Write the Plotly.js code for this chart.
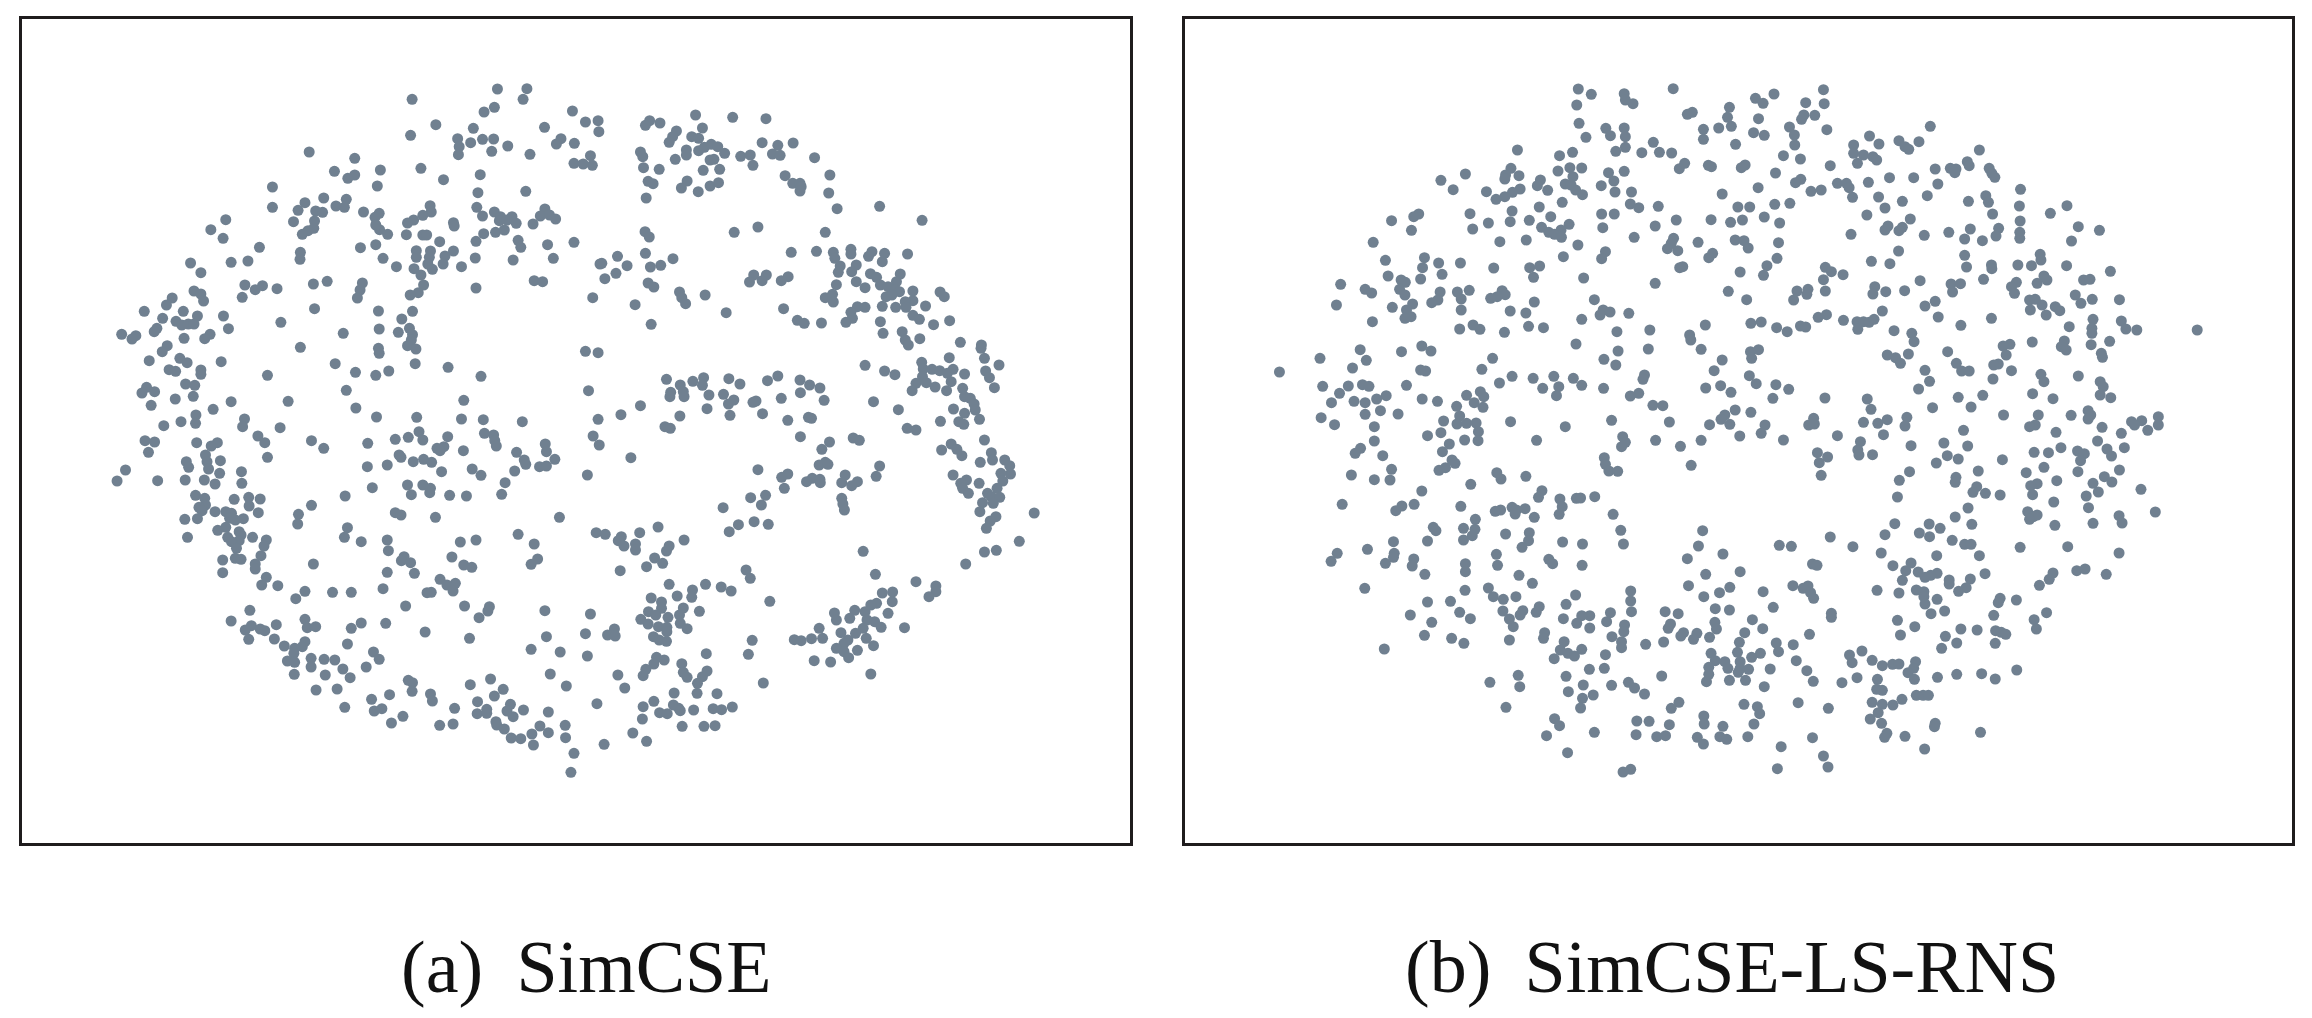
<!DOCTYPE html>
<html>
<head>
<meta charset="utf-8">
<script src="https://cdn.plot.ly/plotly-3.0.1.min.js"></script>
<style>html,body{margin:0;padding:0;background:#fff}</style>
</head>
<body>
<div id="chart" style="width:2312px;height:1018px"></div>
<script>
// Points in four regions per panel.
const simcseNW = [[1300,267],[1377,266],[1077,298],[1367,298],[1292,322],[1265,336],[1496,333],[1530,366],[1563,362],[1565,395],[1139,374],[1237,385],[1423,382],[1073,406],[1196,416],[1200,440],[1198,464],[1230,428],[1261,418],[1290,417],[1285,454],[1327,438],[1466,416],[1454,432],[1501,430],[1385,463],[1543,467],[1500,490],[1524,492],[1548,496],[808,456],[927,475],[874,514],[927,525],[909,535],[994,510],[1100,505],[1159,539],[1255,524],[986,558],[712,561],[1249,578],[1374,574],[846,594],[905,598],[878,618],[900,622],[712,622],[797,608],[779,631],[825,633],[843,637],[950,636],[1124,617],[1127,636],[1105,646],[1246,622],[1261,648],[1292,636],[1308,650],[1338,650],[1305,662],[1325,660],[1349,670],[1424,627],[1412,648],[1436,645],[1452,657],[1393,672],[991,640],[980,652],[982,675],[992,689],[1013,703],[1081,660],[1065,669],[1185,668],[1187,678],[822,663],[767,665],[820,685],[805,692],[790,703],[590,659],[551,689],[583,715],[1062,704],[1105,705],[1115,705],[1264,701],[1295,697],[1318,690],[1244,724],[1149,725],[1354,721],[1361,742],[1431,734],[1500,727],[678,742],[785,757],[784,778],[942,743],[982,734],[1088,752],[1088,772],[1125,753],[1122,772],[1163,768],[1185,753],[1001,775],[1446,775],[1242,774],[1341,780],[498,789],[604,787],[648,783],[1568,792],[1036,800],[1118,792],[1082,806],[1130,808],[1158,792],[1206,800],[1100,825],[525,818],[1396,842],[1418,845],[640,855],[686,857],[667,869],[724,866],[819,852],[855,844],[947,849],[941,870],[934,894],[1107,855],[1093,878],[1072,885],[1244,864],[507,873],[525,882],[532,903],[450,894],[435,915],[633,892],[1549,893],[822,926],[377,934],[479,934],[989,933],[1078,934],[425,955],[516,948],[584,948],[1050,957],[460,964],[475,975],[492,972],[507,972],[734,967],[410,985],[403,995],[597,986],[1070,985],[1078,1004],[991,987],[1041,997],[897,1000],[318,1003],[355,1007],[345,1017],[549,1003],[535,1016],[481,1015],[1075,1020],[1065,1037],[1087,1047],[437,1037],[424,1055],[785,1042],[989,1045],[991,1060],[1530,1054],[1563,1058],[470,1075],[489,1088],[390,1082],[578,1085],[1085,1091],[876,1091],[1171,1102],[442,1109],[459,1114],[525,1110],[525,1123],[929,1117],[1016,1113],[982,1126],[699,1126],[1257,1129],[485,1152],[509,1156],[383,1162],[371,1179],[404,1175],[1538,1172],[905,1171],[458,1197],[505,1189],[604,1205],[753,1204],[1212,1201],[395,1216],[557,1228],[930,1224],[512,1245],[984,1251],[1089,1252],[1206,1257],[1263,1259],[1365,1265],[639,1257],[1563,1258],[473,1265],[511,1270],[428,1277],[634,1280],[732,1283]];
const simcseNE = [[302,345],[399,352],[486,356],[182,362],[171,376],[209,369],[252,393],[320,384],[242,410],[233,427],[292,410],[310,415],[476,428],[517,436],[557,429],[278,450],[278,465],[310,452],[325,442],[343,433],[360,440],[378,460],[158,456],[164,470],[249,478],[420,469],[445,465],[452,496],[503,462],[523,466],[613,473],[340,480],[350,478],[166,503],[207,508],[322,511],[365,508],[653,525],[536,527],[178,544],[191,551],[280,543],[265,564],[309,575],[340,558],[362,548],[556,550],[575,550],[578,560],[575,573],[650,579],[173,594],[672,626],[783,619],[894,661],[170,695],[181,711],[403,697],[465,681],[641,697],[552,757],[618,754],[662,757],[666,775],[708,748],[708,762],[763,755],[754,769],[796,760],[790,785],[856,762],[171,760],[98,769],[57,790],[123,797],[243,776],[211,796],[184,801],[94,820],[65,836],[680,798],[675,817],[722,795],[710,815],[759,821],[775,832],[837,822],[454,825],[487,825],[443,846],[476,842],[544,830],[526,842],[178,849],[193,861],[827,845],[722,845],[745,863],[670,854],[785,855],[805,860],[825,870],[835,875],[800,890],[815,885],[260,876],[266,893],[276,911],[327,885],[870,873],[941,876],[952,890],[660,883],[641,893],[662,906],[144,914],[870,902],[850,905],[852,922],[790,919],[825,922],[903,918],[725,920],[745,922],[532,926],[382,938],[708,937],[870,946],[887,958],[568,961],[586,970],[631,969],[712,955],[695,967],[186,973],[785,965],[924,974],[966,962],[792,1000],[842,995],[888,1016],[850,1020],[858,1035],[994,1027],[1049,1035],[1048,1045],[965,1073],[1057,1075],[893,1087],[1095,1095],[745,1096],[897,1107],[920,1108],[940,1112],[975,1108],[960,1120],[796,1113],[823,1124],[1060,1113],[1070,1133],[1005,1122],[895,1130],[878,1150],[905,1148],[970,1145],[868,1172],[928,1161],[958,1172],[1083,1163],[1000,1165],[226,1138],[262,1155],[295,1144],[323,1133],[320,1156],[389,1136],[418,1152],[490,1142],[517,1128],[575,1140],[600,1155],[627,1164],[576,1178],[237,1177],[235,1190],[270,1175],[272,1190],[337,1185],[375,1183],[402,1200],[388,1212],[460,1203],[452,1207],[526,1195],[638,1201],[1005,1190],[1020,1195],[1030,1212],[767,1205],[158,1217],[107,1244],[332,1226],[832,1229],[976,1227],[1033,1230],[1005,1240],[261,1248],[392,1246],[477,1241],[543,1261],[597,1252],[605,1255],[1044,1258],[942,1264],[990,1265],[1003,1273],[855,1285],[878,1290],[222,1280],[236,1285]];
const simcseSW = [[1095,35],[1170,50],[1105,60],[1033,58],[1067,52],[1266,40],[1290,45],[1293,62],[1297,78],[1550,48],[1566,75],[674,48],[692,68],[379,62],[404,66],[514,68],[568,68],[552,78],[814,62],[846,85],[961,70],[388,97],[1142,85],[1160,80],[1150,92],[1425,72],[1428,95],[1211,92],[1350,97],[699,112],[537,105],[541,125],[576,122],[487,125],[493,142],[1043,105],[1048,112],[1080,125],[1107,118],[1128,127],[1370,120],[1374,133],[1450,118],[1410,140],[1428,138],[960,140],[1012,135],[545,147],[631,155],[1154,155],[1234,147],[1257,166],[1345,153],[1535,165],[328,150],[574,160],[306,183],[412,182],[484,180],[534,180],[562,192],[632,190],[1065,195],[1105,195],[1125,205],[1320,188],[973,203],[1075,224],[1123,218],[1175,226],[1219,228],[1311,223],[902,228],[511,226],[535,235],[612,238],[650,232],[680,237],[537,255],[520,262],[651,258],[814,256],[780,283],[562,275],[590,275],[605,280],[528,272],[675,278],[1033,278],[1048,285],[1138,292],[1462,292],[483,298],[516,296],[600,295],[615,300],[636,296],[778,312],[908,323],[1354,343],[1558,338],[590,322],[569,331],[625,335],[900,352],[490,352],[630,345],[595,352],[660,352],[625,362],[605,365],[696,360],[690,378],[944,365],[1012,360],[1203,366],[1244,360],[1396,372],[618,385],[1015,392],[682,407],[1405,417],[1388,433],[582,420],[615,415],[630,418],[1056,410],[1049,422],[1073,428],[1181,411],[1212,435],[1233,442],[667,432],[667,447],[819,432],[582,458],[1012,457],[1083,460],[696,472],[1150,478],[1168,495],[1190,490],[684,495],[726,497],[1184,513],[1001,506],[797,514],[869,517],[918,517],[1116,518],[1127,517],[773,536],[1060,558],[1214,558],[1279,560],[1275,573],[653,571],[1424,572],[1543,582],[604,603],[797,598],[1252,593],[803,623],[825,620],[944,609],[918,625],[1008,610],[722,614],[1111,636],[657,617],[641,630],[680,627],[692,632],[650,658],[717,657],[1227,655],[1530,641],[1428,650],[908,672],[797,665],[743,678],[770,685],[790,680],[1388,688],[1464,696],[1535,708],[976,696],[991,718],[768,700],[813,715],[847,718],[875,720],[751,723],[770,727],[813,741],[957,741],[896,747],[769,763],[850,765],[915,773],[1438,762],[1067,781],[1078,788],[1282,777],[1229,794],[1480,798],[826,810],[881,807],[1315,808],[1077,814],[1018,824],[1125,822],[1130,843],[971,838],[1292,828],[1248,845],[1560,851],[1334,853],[901,862],[998,866],[978,873],[1188,865],[1272,868],[1247,881],[1272,880],[1325,873],[1341,890],[1368,870],[1433,876],[1053,889],[1023,909],[1149,916],[1184,912],[1296,905],[1298,915],[1318,927],[1477,916],[1411,918],[1433,938],[1390,942],[1336,954],[1361,956],[1478,953],[1394,975],[1500,1000],[1492,1057]];
const simcseSE = [[576,50],[652,66],[714,54],[730,61],[1057,60],[970,72],[945,90],[632,88],[985,88],[998,107],[133,113],[1075,98],[1078,120],[1110,120],[1046,127],[1123,137],[641,127],[625,135],[648,133],[783,138],[465,149],[1125,162],[1100,160],[975,165],[543,162],[527,172],[774,169],[693,165],[684,188],[607,175],[592,185],[627,178],[628,188],[725,185],[710,197],[1010,180],[995,190],[1043,190],[1105,183],[534,205],[1000,205],[1015,220],[1090,205],[485,226],[446,233],[684,235],[687,252],[474,255],[691,270],[1065,220],[1075,230],[1097,232],[1052,248],[1080,250],[374,263],[1045,275],[1187,279],[1087,290],[1072,303],[1062,325],[414,314],[455,305],[492,313],[390,335],[204,321],[66,343],[156,338],[108,350],[100,362],[115,378],[145,372],[145,390],[272,360],[233,378],[226,393],[1148,364],[740,394],[1057,396],[1088,391],[195,414],[216,430],[174,440],[1008,432],[434,450],[105,452],[445,475],[772,463],[878,485],[233,493],[328,493],[369,501],[395,513],[294,510],[292,532],[930,498],[930,515],[912,530],[790,519],[817,516],[816,545],[496,544],[254,528],[186,534],[213,546],[213,565],[270,564],[775,550],[760,555],[805,580],[745,575],[665,579],[718,571],[312,574],[179,575],[198,585],[260,585],[230,592],[159,598],[705,595],[670,600],[750,600],[770,605],[262,610],[178,612],[205,620],[280,626],[227,622],[625,625],[787,622],[848,623],[740,625],[720,640],[682,638],[90,627],[72,645],[92,648],[192,650],[207,660],[226,664],[227,635],[634,655],[605,656],[560,659],[578,662],[748,655],[700,660],[690,670],[767,677],[450,661],[670,685],[690,695],[725,691],[330,701],[440,703],[702,713],[200,712],[220,720],[612,722],[655,726],[193,732],[266,731],[332,753],[172,748],[165,767],[270,757],[280,772],[320,770],[99,765],[760,762],[307,790],[479,789],[117,804],[246,819],[306,820],[358,821],[193,844],[165,860],[244,855],[258,865],[297,870],[348,866],[370,869],[398,861],[208,878],[228,881],[262,872],[163,897],[267,919],[324,919],[353,917],[138,939],[174,964],[63,973]];
const lsrnsNW = [[1067,267],[1101,283],[1187,281],[1190,300],[1210,311],[1315,266],[1530,295],[1550,310],[1063,315],[1462,322],[1365,337],[1352,343],[1457,352],[1538,356],[1069,370],[1139,385],[1187,384],[1394,388],[1434,384],[1467,379],[1151,407],[1190,410],[1087,412],[1394,418],[1525,398],[1553,406],[1263,427],[1478,433],[1190,442],[1165,454],[1052,457],[1233,458],[1279,457],[1311,459],[908,450],[1018,467],[1345,490],[1331,506],[1407,496],[1415,500],[1503,495],[1493,503],[772,522],[891,505],[1045,503],[1076,504],[1014,513],[1146,518],[1187,514],[912,527],[877,525],[875,537],[1053,530],[708,541],[968,540],[960,557],[1160,543],[1033,552],[1048,555],[1127,557],[1537,563],[740,569],[915,567],[895,577],[875,590],[852,598],[827,575],[987,571],[1060,570],[1078,584],[1163,576],[1206,576],[1443,582],[1025,607],[1203,612],[1225,623],[1276,619],[1484,621],[1515,621],[965,621],[894,633],[650,642],[637,650],[784,641],[1128,642],[1161,642],[995,650],[1553,651],[579,662],[889,665],[939,661],[832,669],[1323,660],[1414,659],[1465,667],[1496,660],[631,691],[791,687],[1043,673],[971,682],[1131,683],[1268,678],[990,697],[1022,690],[1005,703],[1023,712],[1213,712],[531,727],[862,725],[931,720],[1316,715],[1380,727],[1477,720],[1500,722],[1310,730],[1066,735],[1300,746],[1327,752],[1511,744],[1138,755],[1418,760],[1128,776],[1408,773],[1028,770],[665,773],[563,781],[702,789],[759,789],[660,803],[940,803],[966,798],[846,804],[1560,797],[1340,800],[1332,803],[711,823],[570,828],[1490,816],[1551,826],[950,832],[655,837],[604,840],[1081,834],[615,847],[1268,850],[446,853],[510,868],[527,879],[600,868],[614,885],[751,876],[782,871],[706,876],[868,872],[876,884],[855,890],[838,895],[761,897],[1459,874],[1507,899],[700,900],[684,908],[1109,899],[952,906],[435,915],[634,912],[581,922],[618,930],[761,930],[889,933],[930,939],[1132,930],[1150,936],[1124,945],[1199,940],[630,950],[614,955],[529,965],[1076,958],[1518,970],[1545,966],[1399,975],[792,975],[810,988],[757,987],[874,997],[937,979],[976,983],[1168,995],[1254,990],[1358,1005],[1361,1020],[1061,1032],[1388,1048],[1250,1047],[658,1038],[682,1053],[497,1049],[605,1055],[1517,1055],[1538,1049],[1520,1075],[392,1075],[513,1081],[843,1075],[1171,1053],[1134,1078],[1165,1095],[1443,1080],[477,1104],[815,1108],[655,1110],[668,1113],[1422,1112],[286,1116],[1514,1127],[1240,1125],[1236,1138],[894,1129],[949,1135],[1003,1129],[1054,1135],[1076,1156],[861,1149],[1532,1151],[399,1159],[466,1158],[503,1154],[520,1159],[618,1156],[1439,1157],[1400,1164],[1133,1165],[974,1165],[1016,1160],[1466,1177],[1010,1187],[443,1180],[1225,1180],[1203,1188],[775,1186],[811,1175],[820,1190],[565,1187],[540,1197],[659,1197],[699,1204],[422,1208],[481,1204],[510,1208],[795,1208],[1262,1216],[1288,1217],[749,1219],[818,1222],[550,1232],[1477,1230],[1450,1245],[510,1243],[596,1242],[1518,1237],[757,1248],[395,1253],[1154,1261],[1305,1266],[890,1265],[715,1263],[1440,1258],[750,1272],[800,1269],[775,1270],[430,1274],[1410,1274],[1463,1273],[1555,1275],[534,1280],[1033,1280]];
const lsrnsNE = [[274,269],[143,282],[227,308],[276,311],[251,346],[222,345],[216,358],[557,379],[184,381],[283,389],[197,405],[396,408],[421,432],[474,422],[527,425],[198,435],[354,435],[354,460],[490,440],[500,448],[380,465],[405,470],[415,480],[687,450],[168,467],[213,477],[364,490],[292,497],[655,485],[660,497],[570,507],[610,505],[625,507],[622,518],[713,505],[720,520],[728,532],[147,519],[449,533],[513,533],[214,538],[200,548],[311,550],[335,550],[342,563],[393,547],[577,552],[241,574],[268,570],[796,568],[351,592],[420,591],[549,587],[704,587],[711,607],[145,613],[185,610],[483,604],[658,604],[793,618],[919,617],[437,624],[722,642],[389,645],[875,640],[158,669],[795,663],[504,657],[949,680],[445,678],[437,690],[483,682],[474,692],[738,685],[731,708],[663,687],[606,697],[1005,691],[347,703],[541,706],[794,697],[794,715],[648,717],[695,722],[931,723],[155,728],[473,753],[648,766],[848,763],[151,775],[401,784],[450,791],[279,802],[295,815],[653,801],[719,795],[720,806],[789,795],[825,797],[850,780],[918,797],[326,824],[1034,814],[274,839],[858,828],[866,840],[840,850],[530,842],[963,840],[980,838],[698,838],[612,852],[637,851],[785,847],[772,860],[780,880],[410,860],[405,882],[439,875],[489,872],[616,876],[279,873],[204,873],[233,868],[230,883],[195,900],[941,885],[956,910],[986,898],[1058,899],[820,900],[835,898],[822,930],[853,915],[864,945],[888,920],[900,932],[570,904],[543,918],[430,933],[282,944],[260,952],[327,961],[363,965],[380,965],[395,967],[408,958],[365,988],[578,951],[719,955],[988,958],[1063,963],[1075,987],[1104,990],[1264,990],[150,983],[178,995],[213,978],[227,981],[638,976],[925,980],[985,985],[985,1000],[461,992],[508,1000],[514,1025],[768,1033],[827,1026],[912,1023],[1032,1024],[750,1038],[983,1034],[904,1040],[917,1050],[758,1065],[1010,1060],[1013,1072],[603,1055],[443,1065],[499,1062],[465,1073],[478,1090],[626,1090],[737,1092],[725,1095],[640,1113],[660,1113],[772,1112],[543,1111],[850,1123],[858,1145],[723,1137],[949,1128],[1007,1145],[1015,1160],[555,1144],[148,1154],[182,1168],[526,1167],[1007,1185],[1035,1193],[828,1181],[882,1196],[631,1192],[696,1186],[278,1194],[140,1195],[390,1197],[400,1228],[665,1221],[563,1223],[975,1232],[982,1245],[975,1257],[751,1245],[843,1245],[930,1246],[1161,1250],[495,1252],[248,1255],[380,1267],[443,1259],[418,1270],[1117,1262],[1090,1265],[1161,1275],[1098,1275],[235,1275],[250,1272],[490,1278],[1012,1282],[835,1275],[820,1280]];
const lsrnsSW = [[534,63],[673,47],[708,38],[806,35],[730,72],[770,60],[805,62],[1183,50],[1190,67],[1180,80],[1269,61],[1388,61],[1334,79],[1489,48],[1545,40],[958,61],[712,95],[498,85],[484,100],[556,107],[737,120],[745,130],[720,143],[703,151],[1135,113],[1138,133],[1147,153],[1170,154],[1362,136],[579,148],[854,158],[865,177],[930,169],[575,180],[534,179],[474,165],[786,193],[658,213],[972,212],[963,232],[1019,237],[1025,260],[1017,283],[1062,235],[1073,234],[1110,230],[450,253],[638,253],[606,258],[590,272],[760,259],[894,262],[905,270],[902,282],[928,266],[864,270],[850,274],[952,292],[1158,283],[798,298],[688,322],[695,332],[767,325],[797,328],[790,347],[767,360],[1178,331],[1392,332],[939,338],[877,342],[937,362],[673,363],[584,365],[920,382],[1026,366],[1078,372],[1185,372],[1381,378],[516,388],[437,400],[421,424],[586,400],[584,412],[563,430],[1445,402],[853,403],[637,417],[633,438],[1352,416],[990,418],[1000,431],[772,431],[772,455],[856,436],[1077,436],[666,463],[912,466],[1400,463],[1490,455],[947,490],[1355,497],[1463,502],[509,505],[832,504],[771,511],[1204,513],[1550,515],[1436,518],[845,530],[871,538],[904,530],[1395,530],[1060,525],[1204,543],[1035,553],[733,544],[673,546],[965,560],[957,577],[1425,566],[1462,570],[870,573],[757,577],[922,572],[915,585],[1206,575],[1294,575],[1328,581],[1097,587],[1076,587],[1151,578],[628,585],[1028,596],[785,596],[887,597],[1522,599],[1424,607],[1141,605],[684,607],[1063,610],[897,620],[1097,624],[1308,612],[1302,625],[1188,615],[1186,635],[1428,627],[1549,626],[665,646],[979,638],[976,655],[1155,650],[1342,638],[1335,648],[1377,640],[1368,658],[1410,652],[1502,638],[736,655],[887,660],[768,670],[1180,665],[1180,683],[1243,673],[1290,666],[1030,665],[1488,667],[1020,690],[1040,700],[1057,708],[1076,688],[560,687],[1483,697],[1414,700],[1543,700],[1138,704],[1004,716],[1520,712],[1425,722],[1450,725],[1490,725],[1408,742],[1458,745],[1490,745],[1512,748],[1485,757],[1096,748],[1135,745],[910,766],[1035,769],[1285,768],[1408,763],[1462,781],[1504,781],[1402,785],[836,787],[1198,787],[1214,804],[1154,796],[1080,795],[914,800],[1553,800],[1240,822],[1041,815],[1106,825],[1078,835],[1330,847],[1073,864],[1310,865],[1500,853],[878,862],[1535,860],[1541,881],[1395,888],[1005,896],[1018,917],[1396,912],[1220,903],[1252,904],[1305,914],[1445,919],[1526,912],[1109,937],[1218,944],[1272,950],[1295,947],[984,947],[1378,952],[1394,972],[1437,950],[1455,958],[1510,950],[1039,998],[1204,1048],[1184,1056]];
const lsrnsSE = [[645,31],[1133,31],[890,37],[1063,40],[433,44],[168,60],[311,47],[372,65],[593,69],[506,77],[656,78],[1000,63],[1025,87],[1071,83],[903,83],[832,97],[870,98],[365,90],[368,105],[404,104],[258,98],[285,111],[263,128],[947,93],[965,101],[1037,108],[955,122],[602,107],[631,117],[748,119],[573,129],[268,166],[502,155],[684,153],[948,155],[858,142],[811,158],[1058,150],[475,181],[625,172],[623,187],[892,182],[1018,170],[1038,186],[988,190],[840,191],[823,197],[680,200],[670,217],[703,220],[742,225],[1115,208],[1002,216],[828,224],[970,228],[470,231],[884,246],[657,264],[976,263],[1153,276],[815,275],[830,290],[840,285],[820,298],[623,291],[1057,287],[1065,309],[463,311],[554,312],[667,313],[988,310],[887,316],[583,325],[528,339],[555,350],[437,344],[292,351],[615,361],[648,373],[665,373],[157,376],[189,379],[352,380],[795,382],[921,380],[427,399],[1057,399],[687,407],[574,407],[245,432],[257,436],[458,437],[506,429],[492,452],[525,456],[882,459],[575,460],[558,466],[543,472],[702,461],[945,452],[967,447],[1023,463],[872,478],[607,480],[607,492],[663,477],[483,481],[846,496],[652,503],[632,514],[193,497],[233,498],[220,505],[240,518],[248,535],[416,511],[474,519],[520,510],[540,515],[540,530],[543,552],[742,535],[737,548],[575,538],[785,540],[141,562],[559,581],[595,573],[295,580],[295,592],[725,586],[865,578],[470,601],[832,599],[516,620],[838,627],[638,627],[681,630],[730,632],[745,637],[757,643],[237,643],[478,645],[597,649],[149,669],[627,669],[729,670],[194,674],[587,685],[155,695],[376,693],[343,705],[350,728],[202,722],[403,721],[430,737],[457,733],[474,732],[518,725],[513,745],[498,758],[515,778],[230,752],[786,750],[133,747],[247,784],[323,788],[363,773],[417,778],[576,772],[627,763],[693,761],[729,777],[415,808],[430,811],[520,826],[538,826],[552,826],[482,838],[403,847],[458,855],[430,853],[207,848],[287,865],[419,878],[398,897],[428,910],[570,910],[568,920],[442,940],[436,952],[490,949],[690,937],[245,953],[162,980],[542,987],[274,1008],[286,1041],[152,1046]];
const panelLabels = ['(a)\u00a0\u2009SimCSE', '(b)\u00a0\u2009SimCSE-LS-RNS'];

const W = 2312, H = 1018;
const SX = 1568 / 600, SXR = 1568 / 592, SY = 3;
const region = (pts, x0, y0, sx) => pts.map(p => [x0 + p[0] / sx, y0 + p[1] / SY]);
const panelA = [].concat(region(simcseNW, 0, 0, SX), region(simcseNE, 580, 0, SX), region(simcseSW, 0, 420, SX), region(simcseSE, 580, 420, SX));
const panelB = [].concat(region(lsrnsNW, 1170, 0, SX), region(lsrnsNE, 1720, 0, SXR), region(lsrnsSW, 1170, 420, SX), region(lsrnsSE, 1720, 420, SXR));

const boxA = {l: 22, r: 1130, t: 19, b: 842.5};
const boxB = {l: 1185, r: 2292, t: 19, b: 842.5};
const marker = {color: '#708090', size: 11, line: {width: 0}};
const axis = (lo, hi, dom) => ({domain: dom, range: [lo, hi], showgrid: false, zeroline: false, showticklabels: false, ticks: '', showline: true, mirror: true, linewidth: 3, linecolor: '#1f1c1d'});

Plotly.newPlot('chart', [
  {type: 'scatter', mode: 'markers', x: panelA.map(p => p[0]), y: panelA.map(p => p[1]), marker, xaxis: 'x', yaxis: 'y', hoverinfo: 'skip'},
  {type: 'scatter', mode: 'markers', x: panelB.map(p => p[0]), y: panelB.map(p => p[1]), marker, xaxis: 'x2', yaxis: 'y2', hoverinfo: 'skip'}
], {
  width: W, height: H, margin: {l: 0, r: 0, t: 0, b: 0}, showlegend: false,
  paper_bgcolor: '#fff', plot_bgcolor: '#fff',
  xaxis: axis(boxA.l, boxA.r, [boxA.l / W, boxA.r / W]),
  yaxis: axis(boxA.b, boxA.t, [1 - boxA.b / H, 1 - boxA.t / H]),
  xaxis2: Object.assign(axis(boxB.l, boxB.r, [boxB.l / W, boxB.r / W]), {anchor: 'y2'}),
  yaxis2: Object.assign(axis(boxB.b, boxB.t, [1 - boxB.b / H, 1 - boxB.t / H]), {anchor: 'x2'}),
  annotations: [
    {text: panelLabels[0], xref: 'paper', yref: 'paper', x: 586 / W, y: 1 - 967 / H, xanchor: 'center', yanchor: 'middle', showarrow: false, font: {family: 'Liberation Serif', size: 74, color: '#111'}},
    {text: panelLabels[1], xref: 'paper', yref: 'paper', x: 1732 / W, y: 1 - 967 / H, xanchor: 'center', yanchor: 'middle', showarrow: false, font: {family: 'Liberation Serif', size: 74, color: '#111'}}
  ]
}, {staticPlot: true, displayModeBar: false});
</script>
</body>
</html>
